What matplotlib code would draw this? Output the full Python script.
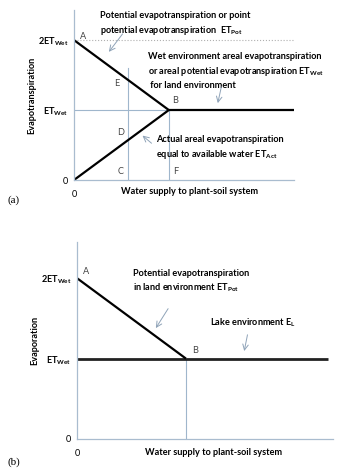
import numpy as np
import matplotlib.pyplot as plt

plt.rcParams['font.family'] = 'Lato'
plt.rcParams['font.weight'] = 'bold'
plt.rcParams['axes.labelweight'] = 'bold'
plt.rcParams['mathtext.fontset'] = 'custom'
plt.rcParams['mathtext.rm'] = 'Lato:bold'
plt.rcParams['mathtext.it'] = 'Lato:bold'
plt.rcParams['mathtext.bf'] = 'Lato:bold'

# panel (a) data (x in units of supply at B, y in units of ET_Wet)
pot_x = [0, 1]
pot_y = [2, 1]
act_x = [0, 1]
act_y = [0, 1]
wet_x_a = [1, 2.32]
wet_y_a = [1, 1]
c_x = 0.57
c_top = 1.6
f_x = 1.0

# panel (b) data
pot_x_b = [0, 1]
pot_y_b = [2, 1]
lake_x = [0, 2.30]
lake_y = [1, 1]

ytick_pos = [0, 1, 2]
ytick_lab = ['0', r'$\mathrm{ET_{Wet}}$', r'$\mathrm{2ET_{Wet}}$']

axis_col = '#a9bccf'
guide_col = '#9fb6cc'
arrow_col = '#8fa3b8'
letter_col = '#444444'
fs = 6.6

fig = plt.figure(figsize=(3.52, 4.68), dpi=100, facecolor='white')


def style(ax, xmax, ymax):
    ax.set_xlim(0, xmax)
    ax.set_ylim(0, ymax)
    for s in ['top', 'right']:
        ax.spines[s].set_visible(False)
    for s in ['left', 'bottom']:
        ax.spines[s].set_color(axis_col)
        ax.spines[s].set_linewidth(0.9)
    ax.set_xticks([0])
    ax.set_xticklabels(['0'], fontsize=fs, fontweight='normal')
    ax.set_yticks(ytick_pos)
    ax.set_yticklabels(ytick_lab, fontsize=fs)
    ax.get_yticklabels()[0].set_fontweight('normal')
    ax.tick_params(length=0, pad=4)
    ax.tick_params(axis='x', pad=7)


# ---------- (a) ----------
ax = fig.add_axes([74 / 352, 1 - 180 / 468, 220 / 352, 170 / 468])
style(ax, 2.32, 2.43)
ax.plot([0, 2.32], [2, 2], ls=':', color='#b0b0b0', lw=0.8)
ax.plot([0, f_x], [1, 1], color=guide_col, lw=0.8)
ax.plot([c_x, c_x], [0, c_top], color=guide_col, lw=0.8)
ax.plot([f_x, f_x], [0, 1], color=guide_col, lw=0.8)
ax.plot(pot_x, pot_y, color='black', lw=1.6, solid_capstyle='butt')
ax.plot(act_x, act_y, color='black', lw=1.6, solid_capstyle='butt')
ax.plot(wet_x_a, wet_y_a, color='black', lw=1.6, solid_capstyle='butt')

for lab, x, y in [('A', 0.09, 2.05), ('E', 0.45, 1.38), ('B', 1.07, 1.14),
                  ('D', 0.49, 0.68), ('C', 0.49, 0.12), ('F', 1.07, 0.12)]:
    ax.text(x, y, lab, fontsize=fs, fontweight='normal', color=letter_col,
            ha='center', va='center')

ax.text(0.27, 2.42, 'Potential evapotranspiration or point\n'
        r'potential evapotranspiration  $\mathrm{ET_{Pot}}$',
        fontsize=fs, va='top', ha='left', linespacing=1.45)
ax.annotate('', xy=(0.35, 1.80), xytext=(0.53, 2.12),
            arrowprops=dict(arrowstyle='->', color=arrow_col, lw=0.7))

ax.text(0.78, 1.83, 'Wet environment areal evapotranspiration\n'
        r'or areal potential evapotranspiration $\mathrm{ET_{Wet}}$' '\n'
        ' for land environment',
        fontsize=fs, va='top', ha='left', linespacing=1.45)
ax.annotate('', xy=(1.51, 1.06), xytext=(1.56, 1.37),
            arrowprops=dict(arrowstyle='->', color=arrow_col, lw=0.7))

ax.text(0.87, 0.65, 'Actual areal evapotranspiration\n'
        r'equal to available water $\mathrm{ET_{Act}}$',
        fontsize=fs, va='top', ha='left', linespacing=1.45)
ax.annotate('', xy=(0.70, 0.66), xytext=(0.84, 0.50),
            arrowprops=dict(arrowstyle='->', color=arrow_col, lw=0.7))

ax.set_xlabel('Water supply to plant-soil system', fontsize=fs, va='center')
ax.xaxis.set_label_coords(0.527, -0.065)
ax.set_ylabel('Evapotranspiration', fontsize=fs, labelpad=1)
fig.text(8 / 352, 1 - 200 / 468, '(a)', fontsize=8, family='Liberation Serif',
         fontweight='normal', va='center', ha='left')

# ---------- (b) ----------
bx = fig.add_axes([77 / 352, 1 - 439 / 468, 256 / 352, 197 / 468])
style(bx, 2.35, 2.45)
bx.plot([1, 1], [0, 1], color=guide_col, lw=0.8)
bx.plot(lake_x, lake_y, color='#222222', lw=2.0, solid_capstyle='butt')
bx.plot(pot_x_b, pot_y_b, color='black', lw=1.6, solid_capstyle='butt')

bx.text(0.08, 2.08, 'A', fontsize=fs, fontweight='normal', color=letter_col,
        ha='center', va='center')
bx.text(1.08, 1.10, 'B', fontsize=fs, fontweight='normal', color=letter_col,
        ha='center', va='center')

bx.text(0.51, 2.12, 'Potential evapotranspiration\n'
        r'in land environment $\mathrm{ET_{Pot}}$',
        fontsize=fs, va='top', ha='left', linespacing=1.45)
bx.annotate('', xy=(0.71, 1.35), xytext=(0.85, 1.65),
            arrowprops=dict(arrowstyle='->', color=arrow_col, lw=0.7))

bx.text(1.22, 1.45, r'Lake environment $\mathrm{E_L}$',
        fontsize=fs, va='center', ha='left')
bx.annotate('', xy=(1.53, 1.06), xytext=(1.57, 1.33),
            arrowprops=dict(arrowstyle='->', color=arrow_col, lw=0.7))

bx.set_xlabel('Water supply to plant-soil system', fontsize=fs, va='center')
bx.xaxis.set_label_coords(0.535, -0.066)
bx.set_ylabel('Evaporation', fontsize=fs, labelpad=1)
fig.text(8 / 352, 1 - 462 / 468, '(b)', fontsize=8, family='Liberation Serif',
         fontweight='normal', va='center', ha='left')

plt.savefig('out.png', dpi=100, facecolor='white')
